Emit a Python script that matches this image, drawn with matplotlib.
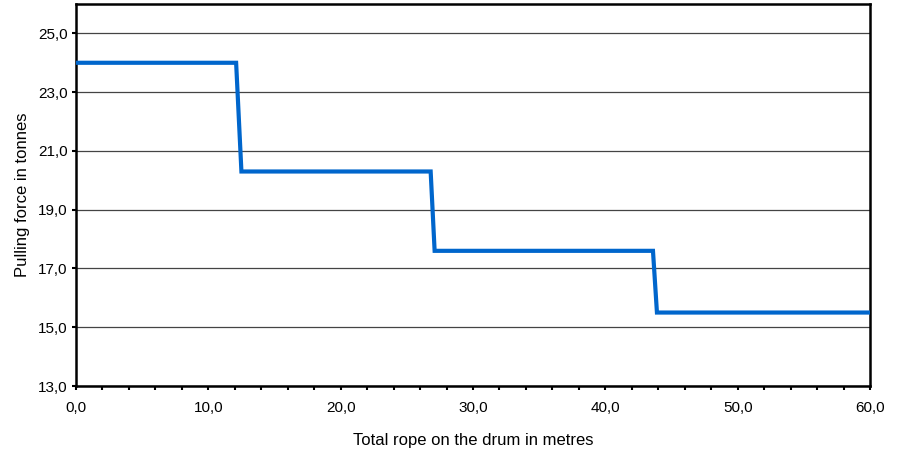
import matplotlib
matplotlib.use("Agg")
import matplotlib.pyplot as plt
from matplotlib.ticker import MultipleLocator, FuncFormatter

plt.rcParams['font.family'] = ['Liberation Sans', 'DejaVu Sans']

rope_m = [0.0, 12.1, 12.5, 26.8, 27.1, 43.6, 43.9, 60.0]
force_t = [24.0, 24.0, 20.3, 20.3, 17.6, 17.6, 15.5, 15.5]

fig = plt.figure(figsize=(9.01, 4.5), dpi=100)
ax = fig.add_axes([76/901, 1 - 386/450, (870-76)/901, (386-4)/450])

ax.plot(rope_m, force_t, color='#0066CC', linewidth=3.0, solid_joinstyle='miter', zorder=3)

ax.set_xlim(0, 60)
ax.set_ylim(13, 26)
ax.xaxis.set_major_locator(MultipleLocator(10))
ax.xaxis.set_minor_locator(MultipleLocator(2))
ax.yaxis.set_major_formatter(FuncFormatter(lambda v, p: f"{v:.1f}".replace('.', ',')))
ax.xaxis.set_major_formatter(FuncFormatter(lambda v, p: f"{v:.1f}".replace('.', ',')))
ax.set_yticks([13, 15, 17, 19, 21, 23, 25])

ax.grid(axis='y', color='#444444', linewidth=0.9, zorder=1)
for s in ax.spines.values():
    s.set_linewidth(1.8)
    s.set_color('black')

ax.tick_params(axis='both', which='both', direction='out', labelsize=11, colors='black')
ax.tick_params(axis='both', which='major', length=3, width=1.5)
ax.tick_params(axis='x', which='minor', length=3, width=1.5)
ax.tick_params(axis='x', pad=8)
ax.tick_params(axis='y', pad=3)

ax.set_xlabel('Total rope on the drum in metres', fontsize=12, labelpad=13)
ax.set_ylabel('Pulling force in tonnes', fontsize=12, labelpad=6)

fig.savefig('out.png', dpi=100)
